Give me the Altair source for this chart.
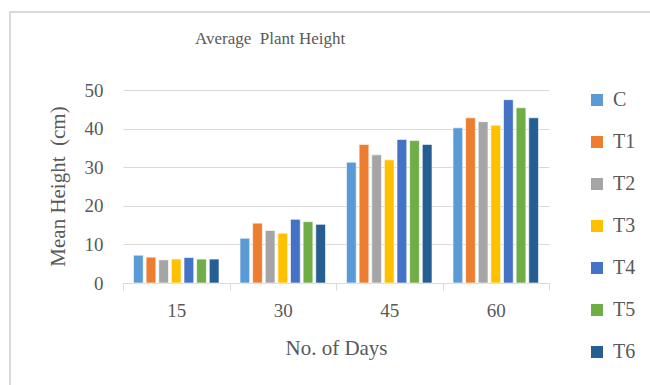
import altair as alt
import pandas as pd

# Days after sowing and treatment groups
days = ["15", "30", "45", "60"]
treatments = ["C", "T1", "T2", "T3", "T4", "T5", "T6"]
colors = ["#5B9BD5", "#ED7D31", "#A5A5A5", "#FFC000", "#4472C4", "#70AD47", "#255E91"]

# Mean plant height (cm) per treatment, one list per observation day
height_15 = [7.2, 6.7, 6.0, 6.2, 6.6, 6.2, 6.2]
height_30 = [11.6, 15.5, 13.6, 12.9, 16.5, 15.9, 15.2]
height_45 = [31.3, 35.9, 33.2, 31.9, 37.2, 36.9, 35.9]
height_60 = [40.2, 42.8, 41.8, 40.9, 47.5, 45.4, 42.8]

rows = []
for day, values in zip(days, [height_15, height_30, height_45, height_60]):
    for t, v in zip(treatments, values):
        rows.append({"day": day, "treatment": t, "height": v})
df = pd.DataFrame(rows)

FONT = "Liberation Serif"
TEXT = "#595959"
LINE = "#D9D9D9"

# Light frame around the whole chart area
frame = alt.Chart(alt.Data(values=[{}])).mark_rect(
    fillOpacity=0, stroke=LINE, strokeWidth=2
).encode(
    x=alt.value(-113), x2=alt.value(560),
    y=alt.value(-78), y2=alt.value(330),
)

bars = alt.Chart(df).mark_bar(stroke="white", strokeWidth=0.6).encode(
    x=alt.X(
        "day:N", sort=days,
        scale=alt.Scale(paddingInner=0, paddingOuter=0),
        axis=alt.Axis(
            title="No. of Days", labelAngle=0, labelFontSize=19, labelPadding=11,
            tickBand="extent", tickColor=LINE, tickSize=7, domainColor=LINE,
            domainWidth=1, grid=False, titleFontSize=21, titleFontWeight="normal",
            titleY=71, titleBaseline="alphabetic",
        ),
    ),
    xOffset=alt.XOffset(
        "treatment:N", sort=treatments,
        scale=alt.Scale(paddingInner=0.23, paddingOuter=0.83),
    ),
    y=alt.Y(
        "height:Q",
        scale=alt.Scale(domain=[0, 50], nice=False),
        axis=alt.Axis(
            title="Mean Height\u00a0 (cm)", values=[0, 10, 20, 30, 40, 50],
            labelFontSize=19, labelPadding=20, ticks=False, domain=False,
            gridColor=LINE, gridWidth=1, titleFontSize=21,
            titleFontWeight="normal", titleX=-55, titleY=96,
        ),
    ),
    color=alt.Color(
        "treatment:N", sort=treatments,
        scale=alt.Scale(domain=treatments, range=colors),
        legend=alt.Legend(
            title=None, orient="none", legendX=464, legendY=0,
            symbolType="square", symbolSize=144, symbolStrokeWidth=0,
            labelFontSize=20, labelOffset=6, rowPadding=22,
        ),
    ),
)

chart = alt.layer(frame, bars).properties(
    width=426,
    height=193,
    title=alt.TitleParams(
        "Average\u00a0 Plant Height", fontSize=17, font=FONT, color=TEXT,
        fontWeight="normal", anchor="start", frame="group", dx=72,
        baseline="alphabetic", offset=-50,
    ),
    autosize=alt.AutoSizeParams(type="none"),
    padding={"left": 123, "top": 90, "right": 101, "bottom": 102},
).configure(
    font=FONT, background="white",
).configure_view(
    stroke=None,
).configure_axis(
    labelColor=TEXT, titleColor=TEXT, labelFont=FONT, titleFont=FONT,
).configure_legend(
    labelColor=TEXT, labelFont=FONT,
)

chart.save("out.html", embed_options={"renderer": "svg", "actions": False})
